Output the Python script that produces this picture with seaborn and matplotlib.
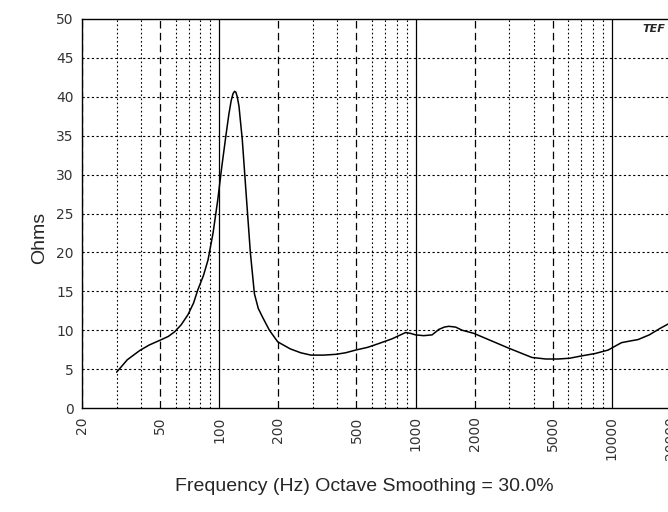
import matplotlib
matplotlib.use("Agg")
import matplotlib.pyplot as plt
import pandas as pd
import seaborn as sns

# impedance curve
freq_hz = [30, 34, 39.4, 44, 49.8, 55, 59.3, 64, 69.3, 74, 77.8, 83, 87.6, 93,
           98.2, 103, 108.5, 112, 115, 117.5, 119.6, 121.5, 123.5, 126, 131,
           137, 144, 151, 158, 166, 180, 198.6, 230, 260, 293, 340, 393, 440,
           496, 570, 652, 760, 889, 940, 1000, 1100, 1214, 1313, 1400, 1476,
           1600, 1725, 1978, 2400, 2977, 3910, 4600, 5340, 6100, 7010, 8200,
           9570, 10300, 11190, 12300, 13600, 15500, 17500, 20000]
ohms = [4.6, 6.2, 7.4, 8.1, 8.7, 9.2, 9.8, 10.7, 12.0, 13.5, 15.2, 17.0, 19.0,
        22.5, 26.7, 31.0, 35.3, 37.8, 39.5, 40.4, 40.7, 40.6, 40.0, 38.8,
        34.5, 27.6, 20.0, 14.7, 12.8, 11.7, 10.0, 8.5, 7.6, 7.1, 6.8, 6.8,
        6.9, 7.1, 7.45, 7.8, 8.3, 8.9, 9.7, 9.6, 9.4, 9.3, 9.4, 10.1, 10.4,
        10.5, 10.4, 10.0, 9.6, 8.7, 7.7, 6.5, 6.3, 6.3, 6.4, 6.7, 7.0, 7.45,
        7.9, 8.4, 8.6, 8.8, 9.4, 10.2, 11.0]

xtick_vals = [20, 50, 100, 200, 500, 1000, 2000, 5000, 10000, 20000]
ytick_vals = [0, 5, 10, 15, 20, 25, 30, 35, 40, 45, 50]

df = pd.DataFrame({"freq": freq_hz, "ohms": ohms})

sns.set_style("white")
plt.rcParams["font.family"] = ["DejaVu Sans"]

fig = plt.figure(figsize=(6.68, 5.12), dpi=100)
ax = fig.add_axes([0.1228, 0.2031, 0.8817, 0.7598])

# grid: solid at decades, long dash at 2x/5x, dotted for the rest
for dec in [10, 100, 1000, 10000]:
    for m in range(1, 10):
        f = dec * m
        if f < 20 or f > 20000:
            continue
        if m == 1:
            ax.axvline(f, color="black", lw=0.9, zorder=1)
        elif m in (2, 5):
            ax.axvline(f, color="black", lw=0.9, ls=(0, (6, 3.5)), zorder=1)
        else:
            ax.axvline(f, color="black", lw=0.8, ls=(0, (1.5, 2.2)), zorder=1)
for y in ytick_vals[1:-1]:
    ax.axhline(y, color="black", lw=0.8, ls=(0, (2, 2.2)), zorder=1)

sns.lineplot(data=df, x="freq", y="ohms", ax=ax, color="black", lw=1.1,
             sort=False, zorder=3)

ax.set_xscale("log")
ax.set_xlim(20, 20000)
ax.set_ylim(0, 50)
ax.set_xticks(xtick_vals)
ax.set_xticklabels([str(v) for v in xtick_vals], rotation=90)
ax.minorticks_off()
ax.set_yticks(ytick_vals)
ax.tick_params(length=0, labelsize=10, labelcolor="#333333", pad=6)
for s in ax.spines.values():
    s.set_color("black")
    s.set_linewidth(1.0)
ax.set_xlabel("")
ax.set_ylabel("")

fig.text(0.546, 0.049, "Frequency (Hz) Octave Smoothing = 30.0%",
         ha="center", va="center", fontsize=14, family="Liberation Sans")
fig.text(0.06, 0.535, "Ohms", ha="center", va="center", rotation=90,
         fontsize=14, family="Liberation Sans")
fig.text(0.979, 0.943, "TEF", ha="center", va="center",
         fontsize=8, fontweight="bold", fontstyle="italic")

fig.savefig("out.png", dpi=100)
